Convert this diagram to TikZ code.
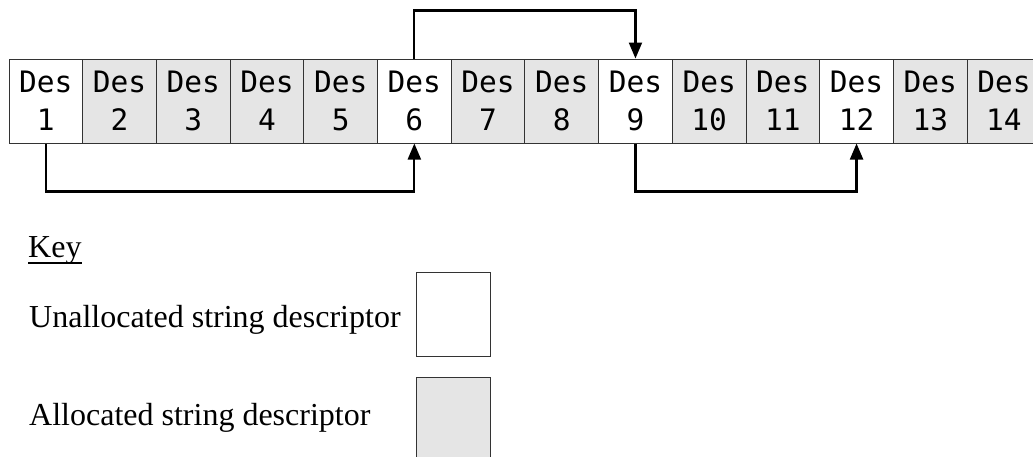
\documentclass[tikz,border=0pt]{standalone}
\usepackage{fontspec}
\setmainfont{Liberation Serif}
\newfontfamily\cellfont{DejaVu Sans Mono}
\usetikzlibrary{arrows.meta}
\begin{document}
\begin{tikzpicture}[x=1pt,y=-1pt,
  cell/.style={draw=black!80, line width=1pt, minimum width=73.7pt,
    minimum height=84pt, inner sep=0pt, align=center,
    font=\cellfont\fontsize{29.5}{38}\selectfont},
  free/.style={cell, fill=white},
  used/.style={cell, fill=black!10},
  link/.style={line width=2.2pt, -{Triangle[length=16pt,width=13pt]}},
  keytext/.style={anchor=base west, inner sep=0pt,
    font=\fontsize{32}{38}\selectfont}]
\clip (0,0) rectangle (1033,456);
\fill[white] (0,0) rectangle (1033,456);

% row of string descriptors
\foreach \i/\st in {1/free,2/used,3/used,4/used,5/used,6/free,7/used,
                    8/used,9/free,10/used,11/used,12/free,13/used,14/used}
  \node[\st] (c\i) at ({9+(\i-0.5)*73.7},101) {Des\\\i};

% free-list links
\draw[link] (c1.south) -- ++(0,48) -| (c6.south);
\draw[link] (c6.north) -- ++(0,-48) -| (c9.north);
\draw[link] (c9.south) -- ++(0,48) -| (c12.south);

% key
\node[keytext] (key) at (28,257) {Key};
\draw[line width=1.8pt] ([yshift=-6pt]key.base west) -- ([yshift=-6pt]key.base east);
\node[keytext] (unalloc) at (29,327) {Unallocated string descriptor};
\node[keytext] (alloc) at (29,425) {Allocated string descriptor};
\node[free] (kfree) at (453.8,314) {};
\node[used] (kused) at (453.8,419) {};
\end{tikzpicture}
\end{document}
